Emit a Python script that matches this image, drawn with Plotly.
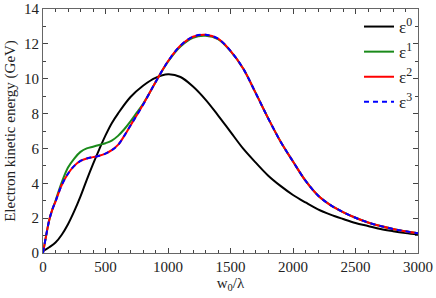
import plotly.graph_objects as go

x0 = [0, 50, 100, 150, 200, 250, 300, 350, 400, 450, 500, 550, 600, 700, 800, 900, 1000,
      1100, 1200, 1300, 1400, 1500, 1600, 1700, 1800, 1900, 2000, 2100, 2200, 2300, 2400,
      2500, 2600, 2700, 2800, 2900, 3000]
e0 = [0.1, 0.33, 0.6, 1.05, 1.65, 2.4, 3.25, 4.2, 5.1, 5.95, 6.75, 7.45, 8.0, 8.95, 9.6, 10.05, 10.25,
      10.1, 9.55, 8.8, 7.9, 6.95, 6.0, 5.2, 4.45, 3.85, 3.33, 2.9, 2.5, 2.2, 1.95,
      1.72, 1.55, 1.38, 1.25, 1.14, 1.05]

x1 = [0, 25, 50, 75, 100, 150, 200, 250, 300, 350, 400, 450, 500, 550, 600, 650, 700, 750, 800,
      850, 900, 1000, 1100, 1200, 1300, 1400, 1500, 1600, 1700, 1800, 1900, 2000, 2100, 2200,
      2300, 2400, 2500, 2600, 2800, 3000]
e1 = [0.0, 1.0, 1.9, 2.5, 3.0, 4.05, 4.9, 5.42, 5.8, 6.0, 6.1, 6.2, 6.3, 6.45, 6.72, 7.1, 7.55, 8.05, 8.55,
      9.15, 9.8, 10.98, 11.85, 12.35, 12.46, 12.27, 11.58, 10.6, 9.2, 7.75, 6.4, 5.25, 4.15, 3.3,
      2.75, 2.35, 2.02, 1.75, 1.38, 1.13]
e2 = [0.0, 1.0, 1.9, 2.5, 2.95, 3.9, 4.55, 5.0, 5.28, 5.42, 5.5, 5.58, 5.7, 5.9, 6.2, 6.72, 7.32, 7.9, 8.5,
      9.15, 9.8, 11.0, 11.9, 12.41, 12.52, 12.3, 11.6, 10.6, 9.2, 7.75, 6.4, 5.25, 4.15, 3.3,
      2.75, 2.35, 2.02, 1.75, 1.38, 1.13]
e3 = list(e2)

names = ["ε<sup>0</sup>", "ε<sup>1</sup>", "ε<sup>2</sup>", "ε<sup>3</sup>"]
colors = ["black", "#1a8a1a", "red", "blue"]

FONT = "Liberation Serif, Times New Roman, serif"

fig = go.Figure()
fig.add_trace(go.Scatter(x=x0, y=e0, mode="lines", name=names[0], line=dict(color=colors[0], width=2, shape="spline", smoothing=1.0)))
fig.add_trace(go.Scatter(x=x1, y=e1, mode="lines", name=names[1], line=dict(color=colors[1], width=2, shape="spline", smoothing=1.0)))
fig.add_trace(go.Scatter(x=x1, y=e2, mode="lines", name=names[2], line=dict(color=colors[2], width=2, shape="spline", smoothing=1.0)))
fig.add_trace(go.Scatter(x=x1, y=e3, mode="lines", name=names[3], line=dict(color=colors[3], width=2, dash="5px,4px", shape="spline", smoothing=1.0)))

axis_common = dict(
    showline=True, linecolor="#666", linewidth=1, mirror="ticks",
    ticks="inside", ticklen=5, tickcolor="#444", tickwidth=1,
    showgrid=False, zeroline=False, automargin=False,
    tickfont=dict(family=FONT, size=15, color="#222"),
)

fig.update_layout(
    width=436, height=298,
    margin=dict(l=43, r=18, t=9, b=45),
    paper_bgcolor="white", plot_bgcolor="white",
    font=dict(family=FONT, color="#222"),
    showlegend=True,
    legend=dict(x=1.0, y=1.0, xanchor="right", yanchor="top",
                bgcolor="rgba(0,0,0,0)", font=dict(family=FONT, size=17, color="#222"),
                itemwidth=30, tracegroupgap=0),
)
fig.update_xaxes(range=[0, 3000], tickvals=[0, 500, 1000, 1500, 2000, 2500, 3000],
                 minor=dict(dtick=100, ticks="inside", ticklen=3, tickcolor="#444"),
                 title=dict(text="w<sub>0</sub>/λ", font=dict(family=FONT, size=15, color="#222"), standoff=0),
                 **axis_common)
fig.update_yaxes(range=[0, 14], dtick=2,
                 minor=dict(dtick=1, ticks="inside", ticklen=3, tickcolor="#444"),
                 title=dict(text="Electron kinetic energy (GeV)", font=dict(family=FONT, size=15, color="#222"), standoff=4),
                 **axis_common)

fig.write_html("out.html", config={"displayModeBar": False},
               post_script="document.body.style.margin='0';document.body.style.overflow='hidden';")
